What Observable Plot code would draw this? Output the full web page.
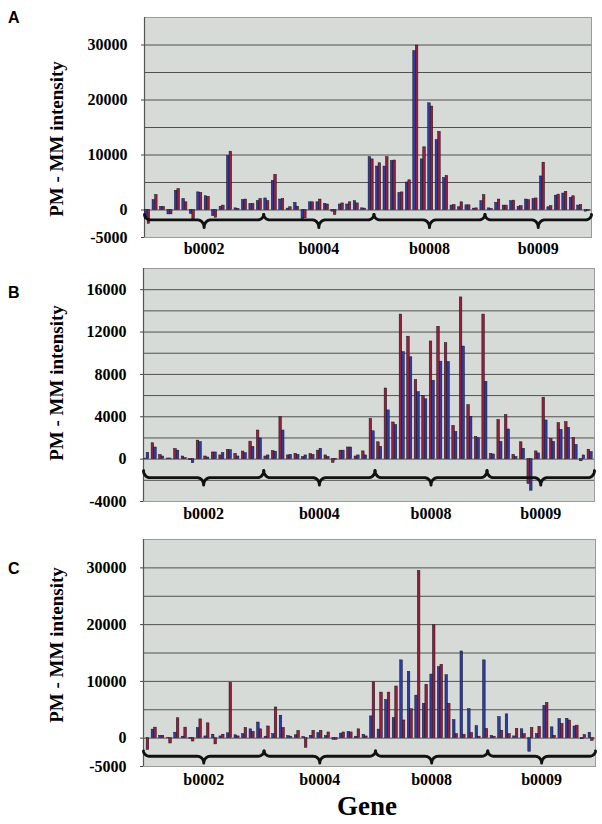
<!DOCTYPE html>
<html><head><meta charset="utf-8">
<script src="https://cdn.jsdelivr.net/npm/d3@7"></script>
<script src="https://cdn.jsdelivr.net/npm/@observablehq/plot@0.6"></script>
<style>
body{margin:0;background:#fff;}
#wrap{position:relative;width:602px;height:824px;overflow:hidden;background:#fff;}
#wrap svg.p{position:absolute;left:0;}
#over{position:absolute;left:0;top:0;pointer-events:none;}
</style></head><body><div id="wrap"></div>
<script>
// ---------- data ----------
const genes = ["b0002", "b0004", "b0008", "b0009"];
const braceBounds = [0, 16, 30.8, 45.7, 60];   // probe-pair units

const aBlue = [-1700,1800,550,-800,3500,2000,-700,3200,2500,-1100, 600,9800,300,1800,1100,1600,2100,5300,1900,250, 1300,-1700,1400,1400,1100,-300,1000,1000,1600,300, 9600,7900,7900,8900,3100,5000,28900,9200,19400,12700, 5800,800,500,850,250,1600,300,1300,800,1600, 600,1900,2000,6100,500,2600,3000,2200,800,-300];
const aRed  = [-2500,2700,550,-800,3800,1400,-1700,3100,2400,-1400, 800,10600,200,1900,1100,2000,1600,6400,2000,500, 600,-1500,1400,1900,1000,-900,1200,1400,1200,250, 9200,8500,9600,9000,3200,5400,29900,11400,18800,14200, 6200,900,1400,850,300,2700,200,1900,800,1700, 700,1800,2100,8600,700,2800,3300,2500,900,-200];

const bRed  = [50,1500,380,60,950,250,-100,1750,250,630, 350,880,500,720,1650,2700,250,760,3970,350, 500,200,480,800,350,-350,800,1100,250,730, 3800,1590,6670,3460,13650,11560,7460,5970,11110,12500, 10950,3140,15270,5100,2100,13650,500,3700,4160,400, 1590,-2350,730,5800,1900,3400,3490,2000,-200,890];
const bBlue = [600,1100,250,60,800,100,-380,1600,150,630, 570,850,250,570,1150,1950,350,700,2700,400, 400,350,400,980,200,-50,800,1100,350,350, 2630,1170,4600,3200,10100,9620,6320,5650,7400,9200, 9170,2570,10630,4000,1970,7300,440,1620,2800,200, 980,-2980,540,3650,1620,2760,2950,1330,350,670];

const cBlue = [0,1500,400,60,950,250,-100,1750,300,600, 300,850,500,700,1550,2750,250,700,3950,350, 500,200,400,900,350,-300,800,1100,250,600, 3830,1500,6700,3530,13700,11680,7490,6050,11200,12500, 11080,3170,15270,5090,2100,13700,400,3700,4190,300, 1560,-2400,700,5700,1900,3350,3400,2050,-200,950];
const cRed  = [-2100,1850,400,-950,3500,1850,-600,3300,2600,-1100, 600,9750,300,1800,1080,1550,2050,5400,1800,250, 1260,-1700,1300,1300,1000,-300,1000,1000,1550,300, 9820,8020,8020,9100,3110,5090,29460,9400,19880,12930, 6050,700,600,900,250,1620,250,1300,700,1620, 700,1800,2000,6200,400,2500,3100,2200,550,-500];

const ticksA = [-5000, 0, 10000, 20000, 30000];
const gridA  = [0, 5000, 10000, 15000, 20000, 25000, 30000];
const ticksB = [-4000, 0, 4000, 8000, 12000, 16000];
const gridB  = [-2000, 0, 2000, 4000, 6000, 8000, 10000, 12000, 14000, 16000];

// ---------- styling ----------
const BLUE = "#2c3ca6", RED = "#9a1d3a", BG = "#d6dbd8", GRID = "#505050";

function bracePoints(bounds, tip, line, cusp, r, n = 14) {
  const pts = [];
  for (let g = 0; g < bounds.length - 1; g++) {
    const a = bounds[g], b = bounds[g + 1], m = (a + b) / 2;
    const H = Math.PI / 2;
    for (let k = 0; k <= n; k++) { const t = k / n * H; pts.push({g, x: a + r * (1 - Math.cos(t)), y: tip + (line - tip) * Math.sin(t)}); }
    for (let k = 0; k <= n; k++) { const t = k / n * H; pts.push({g, x: m - r + r * Math.sin(t), y: line + (cusp - line) * (1 - Math.cos(t))}); }
    for (let k = n; k >= 0; k--) { const t = k / n * H; pts.push({g, x: m + r - r * Math.sin(t), y: line + (cusp - line) * (1 - Math.cos(t))}); }
    for (let k = n; k >= 0; k--) { const t = k / n * H; pts.push({g, x: b - r * (1 - Math.cos(t)), y: tip + (line - tip) * Math.sin(t)}); }
  }
  return pts;
}

function panel(cfg) {
  const left = cfg.first.values.map((v, i) => ({i, v}));
  const right = cfg.second.values.map((v, i) => ({i, v}));
  const centers = genes.map((g, i) => ({g, x: (braceBounds[i] + braceBounds[i + 1]) / 2}));
  const svg = Plot.plot({
    width: 602, height: cfg.height,
    marginTop: cfg.mTop, marginBottom: cfg.mBottom, marginLeft: cfg.mLeft, marginRight: cfg.mRight,
    style: {fontFamily: "'Liberation Serif', 'Times New Roman', serif", fontWeight: "bold", fontSize: "16px", color: "#000", background: "transparent"},
    x: {domain: [0, 60], axis: null},
    y: {domain: cfg.domain},
    marks: [
      Plot.frame({fill: BG, stroke: "#9a9a9a", strokeWidth: 1}),
      Plot.ruleY(cfg.grid, {stroke: GRID, strokeWidth: 1}),
      Plot.ruleX([0], {stroke: "#555", strokeWidth: 1.2}),
      Plot.rect(left, {x1: d => d.i + 0.08, x2: d => d.i + 0.42, y1: 0, y2: "v", fill: cfg.first.color, stroke: "#151520", strokeWidth: 0.5, inset: 0}),
      Plot.rect(right, {x1: d => d.i + 0.42, x2: d => d.i + 0.76, y1: 0, y2: "v", fill: cfg.second.color, stroke: "#151520", strokeWidth: 0.5, inset: 0}),
      Plot.line(bracePoints(braceBounds, cfg.brace[0], cfg.brace[1], cfg.brace[2], 0.85), {x: "x", y: "y", z: "g", stroke: "#111", strokeWidth: 2.9, strokeLinejoin: "round", strokeLinecap: "round"}),
      Plot.text(centers, {x: "x", y: () => cfg.domain[0], text: "g", dy: cfg.labelDy, lineAnchor: "bottom", fontSize: 16, fontWeight: "bold", fill: "#000"}),
      Plot.axisY({ticks: cfg.ticks, tickSize: 3, tickPadding: 14, fontSize: 16, label: null, tickFormat: d => String(d), stroke: "#444"})
    ]
  });
  svg.classList.add("p");
  svg.style.top = cfg.top + "px";
  svg.style.position = "absolute";
  return svg;
}

const wrap = document.getElementById("wrap");
wrap.appendChild(panel({top: 0, height: 262, mTop: 17, mBottom: 25, mLeft: 144, mRight: 11,
  domain: [-5000, 35000], grid: gridA, ticks: ticksA,
  first: {values: aBlue, color: BLUE}, second: {values: aRed, color: RED},
  brace: [-800, -1800, -3200], labelDy: 16}));
wrap.appendChild(panel({top: 250, height: 275, mTop: 18, mBottom: 24, mLeft: 143, mRight: 8,
  domain: [-4000, 18000], grid: gridB, ticks: ticksB,
  first: {values: bRed, color: RED}, second: {values: bBlue, color: BLUE},
  brace: [-1080, -1750, -2450], labelDy: 17}));
wrap.appendChild(panel({top: 520, height: 275, mTop: 19, mBottom: 29, mLeft: 143, mRight: 7,
  domain: [-5000, 35000], grid: gridA, ticks: ticksA,
  first: {values: cBlue, color: BLUE}, second: {values: cRed, color: RED},
  brace: [-2250, -3200, -4400], labelDy: 18}));

// ---------- page-level text ----------
const NS = "http://www.w3.org/2000/svg";
const over = document.createElementNS(NS, "svg");
over.setAttribute("id", "over"); over.setAttribute("width", 602); over.setAttribute("height", 824);
function txt(s, x, y, opts) {
  const t = document.createElementNS(NS, "text");
  t.textContent = s;
  t.setAttribute("x", x); t.setAttribute("y", y);
  for (const k in opts) t.setAttribute(k, opts[k]);
  over.appendChild(t);
}
const sans = {"font-family": "'Liberation Sans', Arial, sans-serif", "font-weight": "bold", "font-size": 16};
txt("A", 8, 23, sans); txt("B", 8, 298, sans); txt("C", 8, 574, sans);
const ylab = {"font-family": "'Liberation Serif', 'Times New Roman', serif", "font-weight": "bold", "font-size": 19, "text-anchor": "middle"};
[139, 383, 645].forEach(cy => txt("PM - MM  intensity", 0, 0, Object.assign({transform: `translate(63,${cy}) rotate(-90)`}, ylab)));
txt("Gene", 367, 815, {"font-family": "'Liberation Serif', 'Times New Roman', serif", "font-weight": "bold", "font-size": 27, "text-anchor": "middle"});
wrap.appendChild(over);
</script>
</body></html>
